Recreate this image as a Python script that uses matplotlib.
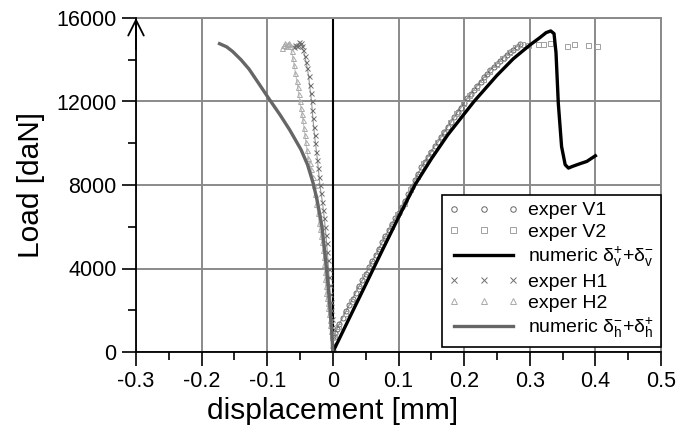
import matplotlib
matplotlib.use("Agg")
import matplotlib.pyplot as plt
from matplotlib.ticker import MultipleLocator

plt.rcParams['font.family'] = ['Liberation Sans', 'DejaVu Sans']
plt.rcParams['mathtext.fontset'] = 'custom'
plt.rcParams['mathtext.rm'] = 'Liberation Sans'
plt.rcParams['mathtext.it'] = 'Liberation Sans:italic'

# ---------------- data ----------------
# numeric vertical (delta_v+ + delta_v-)
num_v_d = [0, 0.025, 0.05, 0.075, 0.1, 0.125, 0.15, 0.175, 0.2, 0.215, 0.25, 0.275, 0.3,
           0.315, 0.325, 0.332, 0.337, 0.340, 0.3435, 0.3485, 0.354, 0.359, 0.365,
           0.3765, 0.387, 0.4]
num_v_f = [0, 1620, 3230, 4850, 6450, 8000, 9250, 10400, 11400, 12000, 13250, 14050, 14700,
           15050, 15300, 15380, 15250, 14340, 11920, 9840, 8970, 8810, 8890,
           9020, 9130, 9400]

# numeric horizontal (delta_h- + delta_h+)
num_h_d = [0, -0.002, -0.005, -0.0096, -0.0165, -0.0241, -0.0302, -0.0386, -0.0485, -0.066,
           -0.0805, -0.098, -0.1116, -0.1277, -0.14, -0.1529, -0.162, -0.1727]
num_h_f = [0, 1050, 2350, 3980, 5990, 7290, 8100, 8970, 9690, 10650,
           11360, 12160, 12800, 13550, 14000, 14400, 14620, 14770]

# experiment V1 (circles)
v1_d = [0, 0.0005, 0.003, 0.006, 0.01, 0.015, 0.02, 0.025, 0.03, 0.035, 0.04, 0.045, 0.05,
        0.055, 0.06, 0.065, 0.07, 0.075, 0.08, 0.085, 0.09, 0.095, 0.1, 0.105, 0.11, 0.115,
        0.12, 0.125, 0.13, 0.135, 0.14, 0.145, 0.15, 0.155, 0.16, 0.165, 0.17, 0.175, 0.18,
        0.185, 0.19, 0.195, 0.2, 0.205, 0.21, 0.215, 0.22, 0.225, 0.23, 0.235, 0.24, 0.245,
        0.25, 0.255, 0.26, 0.265, 0.27, 0.275, 0.28, 0.285]
v1_f = [0, 700, 900, 1100, 1350, 1650, 1950, 2250, 2550, 2850, 3150, 3450, 3750,
        4050, 4350, 4650, 4950, 5250, 5550, 5850, 6150, 6400, 6650, 6950, 7250, 7550,
        7900, 8250, 8550, 8850, 9100, 9350, 9600, 9850, 10050, 10300, 10550, 10800, 11000,
        11250, 11500, 11700, 11950, 12150, 12350, 12550, 12750, 12950, 13150, 13300, 13500, 13650,
        13800, 13950, 14100, 14250, 14350, 14480, 14620, 14750]

# experiment V2 (squares)
v2_d = [0.001, 0.008, 0.018, 0.028, 0.038, 0.048, 0.058, 0.068, 0.078, 0.088, 0.098, 0.108,
        0.118, 0.128, 0.138, 0.148, 0.158, 0.168, 0.178, 0.188, 0.198, 0.208, 0.218, 0.228,
        0.238, 0.248, 0.258, 0.268, 0.278, 0.288, 0.298, 0.313, 0.320, 0.331, 0.356, 0.368,
        0.388, 0.402]
v2_f = [750, 1250, 1850, 2450, 3050, 3650, 4250, 4850, 5450, 6050, 6600, 7150,
        7800, 8450, 9050, 9550, 10050, 10500, 11000, 11450, 11950, 12300, 12700, 13100,
        13450, 13800, 14100, 14350, 14600, 14750, 14700, 14770, 14750, 14800, 14640, 14770,
        14720, 14640]
v2_dense = 30  # number of leading V2 points that form the continuous branch

# experiment H1 (x)
h1_d = [0, -0.0005, -0.001, -0.0015, -0.002, -0.0025, -0.003, -0.004, -0.005, -0.0058, -0.0066,
        -0.0075, -0.0085, -0.0095, -0.0105, -0.0118, -0.013, -0.0145, -0.016, -0.018, -0.0198,
        -0.021, -0.0222, -0.0235, -0.025, -0.0265, -0.028, -0.0292, -0.0305, -0.0315, -0.0325,
        -0.034, -0.0355, -0.037, -0.039, -0.041, -0.043, -0.045, -0.047, -0.049, -0.051, -0.053,
        -0.055, -0.057, -0.059]
h1_f = [0, 400, 800, 1200, 1600, 2000, 2400, 2800, 3200, 3600, 4000,
        4400, 4800, 5200, 5600, 6000, 6400, 6800, 7200, 7600, 8000,
        8400, 8800, 9200, 9600, 10000, 10400, 10800, 11200, 11600, 12000,
        12400, 12800, 13200, 13600, 13900, 14200, 14450, 14650, 14800, 14830, 14700,
        14650, 14720, 14600]

# experiment H2 (triangles)
h2_d = [0, -0.001, -0.002, -0.003, -0.004, -0.005, -0.006, -0.007, -0.008, -0.009, -0.010,
        -0.0108, -0.0115, -0.012, -0.0128, -0.0138, -0.015, -0.0165, -0.018, -0.0195, -0.021,
        -0.023, -0.025, -0.027, -0.029, -0.031, -0.033, -0.0355, -0.0376, -0.0395, -0.041,
        -0.0425, -0.044, -0.0455, -0.047, -0.0487, -0.0503, -0.052, -0.0535, -0.055, -0.057,
        -0.059, -0.061, -0.063, -0.065, -0.067, -0.069, -0.071, -0.073, -0.075, -0.077]
h2_f = [0, 350, 700, 1000, 1300, 1550, 1800, 2100, 2350, 2600, 2850,
        3150, 3500, 3850, 4200, 4550, 4900, 5250, 5550, 5900, 6200,
        6650, 7100, 7550, 8000, 8400, 8750, 9050, 9300, 9700, 10050,
        10400, 10750, 11100, 11400, 11700, 12000, 12350, 12700, 13000, 13350,
        13750, 14100, 14400, 14650, 14800, 14750, 14650, 14800, 14700, 14550]

x_ticks = [-0.3, -0.2, -0.1, 0, 0.1, 0.2, 0.3, 0.4, 0.5]
x_labels = ['-0.3', '-0.2', '-0.1', '0', '0.1', '0.2', '0.3', '0.4', '0.5']
y_ticks = [0, 4000, 8000, 12000, 16000]

# ---------------- figure ----------------
fig = plt.figure(figsize=(6.78, 4.37), dpi=100)
ax = fig.add_axes([136/678, 85/437, 525/678, 334/437])

grid_c = '#8a8a8a'
ax.set_xlim(-0.3, 0.5)
ax.set_ylim(0, 16000)
ax.set_xticks(x_ticks)
ax.set_xticklabels(x_labels)
ax.set_yticks(y_ticks)
ax.xaxis.set_minor_locator(MultipleLocator(0.05))
ax.yaxis.set_minor_locator(MultipleLocator(2000))
ax.grid(True, which='major', color=grid_c, lw=1.4, zorder=0)
ax.set_axisbelow(True)
for s in ['top', 'right']:
    ax.spines[s].set_color(grid_c)
    ax.spines[s].set_linewidth(1.4)
for s in ['left', 'bottom']:
    ax.spines[s].set_color('black')
    ax.spines[s].set_linewidth(1.3)
    ax.spines[s].set_zorder(5)
ax.tick_params(which='major', direction='out', length=10, width=1.2, labelsize=15.5, pad=4)
ax.tick_params(which='minor', direction='out', length=5.5, width=1.2)
ax.axvline(0, color='black', lw=1.5, zorder=1)

c_v1, c_v2, c_h1, c_h2 = '#666666', '#a0a0a0', '#6e6e6e', '#aaaaaa'
# faint trace connecting the dense experimental readings
ax.plot(v1_d, v1_f, color=c_v1, lw=0.8, alpha=0.7, zorder=2)
ax.plot(v2_d[:v2_dense], v2_f[:v2_dense], color=c_v2, lw=0.8, alpha=0.7, zorder=2)
ax.plot(h1_d, h1_f, color=c_h1, lw=0.8, alpha=0.7, zorder=2)
ax.plot(h2_d, h2_f, color=c_h2, lw=0.8, alpha=0.7, zorder=2)

mk = dict(ls='none', ms=3.6, mfc='none', mew=0.7)
ax.plot(v1_d, v1_f, marker='o', color=c_v1, label='exper V1', zorder=3, **mk)
ax.plot(v2_d, v2_f, marker='s', color=c_v2, label='exper V2', zorder=3, **mk)
ax.plot(num_v_d, num_v_f, color='black', lw=2.4,
        label=r'numeric $\mathrm{δ}_\mathrm{v}^{+}$+$\mathrm{δ}_\mathrm{v}^{-}$', zorder=4)
ax.plot(h1_d, h1_f, marker='x', color=c_h1, label='exper H1', zorder=3, **mk)
ax.plot(h2_d, h2_f, marker='^', color=c_h2, label='exper H2', zorder=3, **mk)
ax.plot(num_h_d, num_h_f, color='#666666', lw=2.4,
        label=r'numeric $\mathrm{δ}_\mathrm{h}^{-}$+$\mathrm{δ}_\mathrm{h}^{+}$', zorder=4)

ax.set_xlabel('displacement [mm]', fontsize=21.5, labelpad=2)
ax.xaxis.set_label_coords((333 - 136) / 525, -0.135)
ax.set_ylabel('Load [daN]', fontsize=21.5, labelpad=8)

# arrow on the y axis
ax.annotate('', xy=(-0.3, 16000), xytext=(-0.3, 14500),
            arrowprops=dict(arrowstyle='->,head_length=0.8,head_width=0.4', color='black',
                            lw=1.3, mutation_scale=14, shrinkA=0, shrinkB=0),
            annotation_clip=False, zorder=6)

leg = ax.legend(loc='lower right', bbox_to_anchor=(661/678, 90/437),
                bbox_transform=fig.transFigure, borderaxespad=0,
                fontsize=14, numpoints=3, handlelength=3.6, handletextpad=0.5,
                labelspacing=0.2, borderpad=0.35, fancybox=False, framealpha=1,
                edgecolor='black', markerscale=1.1)
leg.get_frame().set_linewidth(1.2)
leg.set_zorder(10)

fig.savefig('out.png', dpi=100)
